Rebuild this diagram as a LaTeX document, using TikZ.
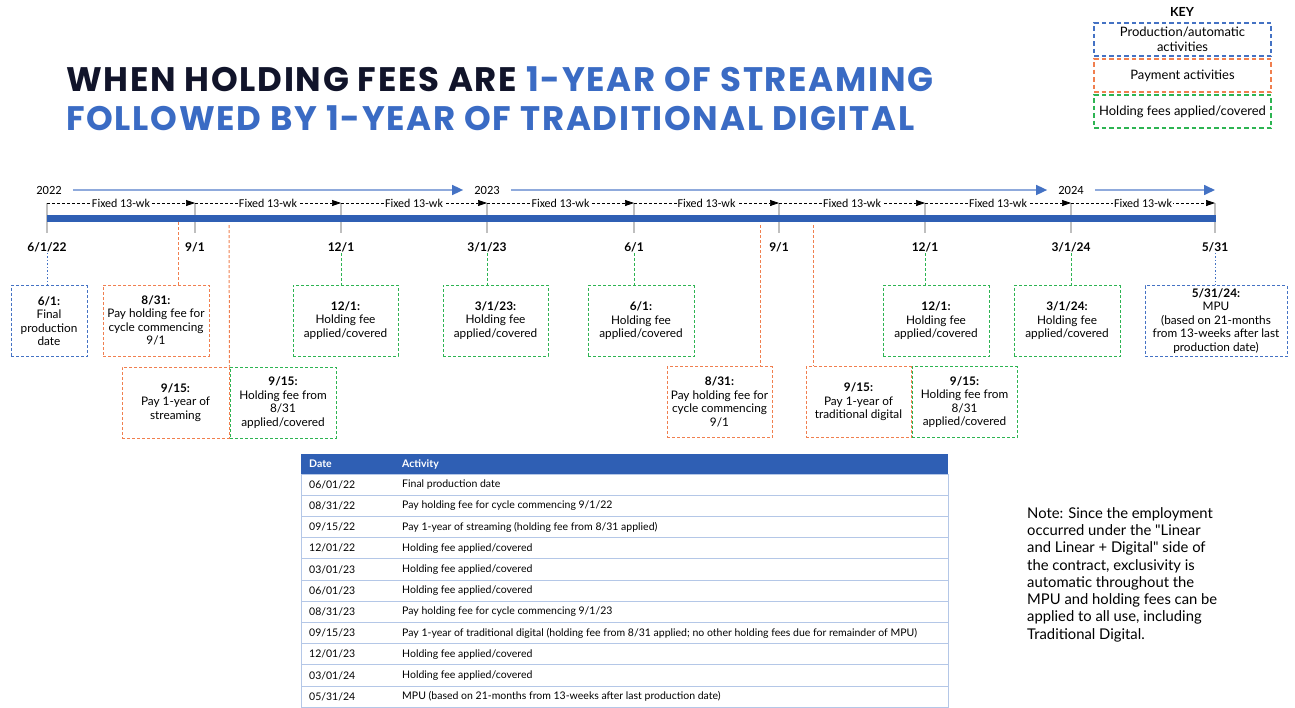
\documentclass[tikz,border=0pt]{standalone}
\usepackage{fontspec}
\setmainfont{Lato}
\newfontfamily\headfont[LetterSpace=5]{Poppins}
\newfontfamily\notefont[Ligatures=TeXOff]{Lato}
\newfontfamily\calfont{Carlito}
\usetikzlibrary{positioning,arrows.meta}

\definecolor{keyblue}{HTML}{4472C4}
\definecolor{keyorange}{HTML}{F07F4F}
\definecolor{keygreen}{HTML}{2DB452}
\definecolor{barblue}{HTML}{2F5FB4}
\definecolor{yearblue}{HTML}{8FAADC}
\definecolor{titlenavy}{HTML}{11142A}
\definecolor{titleblue}{HTML}{3A6BC4}
\definecolor{rowline}{HTML}{B4C7E7}
\definecolor{tickgray}{HTML}{BFBFBF}

\tikzset{
	evbox/.style = {draw, dash pattern=on 3pt off 2pt, line width=1pt, fill=white,
		align=center, inner sep=2pt, minimum width=#1, minimum height=71pt,
		font=\fontsize{11.8}{13.5}\selectfont},
	evbox/.default = 106pt,
	keybox/.style = {draw, dash pattern=on 4.5pt off 3pt, line width=1.3pt,
		align=center, minimum width=177pt, minimum height=33pt,
		font=\fontsize{13}{14.5}\selectfont},
	datelbl/.style = {font=\bfseries\fontsize{12}{14}\selectfont, inner sep=1pt},
	yearlbl/.style = {font=\calfont\fontsize{12.5}{14}\selectfont, inner xsep=11pt},
	fixlbl/.style = {font=\calfont\fontsize{12}{13}\selectfont, fill=white, inner sep=1pt},
	cyclearrow/.style = {dash pattern=on 3pt off 2pt, line width=0.7pt, -{Triangle[length=9pt,width=6pt]}},
	yeararrow/.style = {yearblue, line width=1.6pt, -{Triangle[length=11pt,width=10pt,color=keyblue]}},
	paylink/.style = {keyorange, line width=1pt, dash pattern=on 3pt off 2pt},
	feelink/.style = {keygreen, line width=1pt, dash pattern=on 3pt off 2pt},
	prodlink/.style = {keyblue, line width=1pt, dash pattern=on 1.5pt off 2pt},
	tablecell/.style = {font=\fontsize{10.5}{12}\selectfont, anchor=west, inner sep=0pt}
}

\begin{document}
\begin{tikzpicture}[x=1pt, y=-1pt]
	\useasboundingbox (0,0) rectangle (1295,707);

	% title
	\node[anchor=base west, inner sep=0pt, font=\headfont\bfseries\fontsize{34}{40}\selectfont] (Titel1) at (66,91)
		{\textcolor{titlenavy}{WHEN HOLDING FEES ARE} \textcolor{titleblue}{1-YEAR OF STREAMING}};
	\node[anchor=base west, inner sep=0pt, font=\headfont\bfseries\fontsize{34}{40}\selectfont, titleblue] (Titel2) at (66,130)
		{FOLLOWED BY 1-YEAR OF TRADITIONAL DIGITAL};

	% key
	\node[font=\bfseries\fontsize{12.5}{14}\selectfont] (Key) at (1182,12) {KEY};
	\node[keybox, draw=keyblue]   (keyProd) at (1182.5,39.5)  {Production/automatic\\activities};
	\node[keybox, draw=keyorange] (keyPay)  at (1182.5,75.5)  {Payment activities};
	\node[keybox, draw=keygreen]  (keyFee)  at (1182.5,111.5) {Holding fees applied/covered};

	% years
	\node[yearlbl] (y22) at (49,190)   {2022};
	\node[yearlbl] (y23) at (487,190)  {2023};
	\node[yearlbl] (y24) at (1071,190) {2024};
	\coordinate (yEnd) at (1215,190);
	\draw[yeararrow] (y22) -- (y23);
	\draw[yeararrow] (y23) -- (y24);
	\draw[yeararrow] (y24) -- (yEnd);

	% quarter ticks and cycles
	\foreach \x [count=\i] in {47,195,341,487,634,779,925,1071,1215}
		\coordinate (t\i) at (\x,203);
	\foreach \i in {1,...,9}
		\draw[tickgray, line width=1.2pt] (t\i) -- ++(0,30);
	\foreach \j [count=\i] in {2,...,9}
		\draw[cyclearrow] (t\i) -- (t\j) node[midway, fixlbl] {Fixed 13-wk};
	\fill[barblue] (47,215) rectangle (1216,222);
	\foreach \lab [count=\i] in {6/1/22,9/1,12/1,3/1/23,6/1,9/1,12/1,3/1/24,5/31}
		\node[datelbl, below=38pt of t\i] (d\i) {\lab};

	% upper row of boxes
	\node[evbox=76pt, draw=keyblue]   (b61a)  at (49,321)      {\textbf{6/1:}\\Final\\production\\date};
	\node[evbox, draw=keyorange]      (b831a) at (156,320.5)   {\textbf{8/31:}\\Pay holding fee for\\cycle commencing\\9/1};
	\node[evbox=105pt, draw=keygreen] (b121a) at (345.5,320.5) {\textbf{12/1:}\\Holding fee\\applied/covered};
	\node[evbox=105pt, draw=keygreen] (b31a)  at (495.5,320.5) {\textbf{3/1/23:}\\Holding fee\\applied/covered};
	\node[evbox, draw=keygreen]       (b61b)  at (641,321)     {\textbf{6/1:}\\Holding fee\\applied/covered};
	\node[evbox, draw=keygreen]       (b121b) at (936,321)     {\textbf{12/1:}\\Holding fee\\applied/covered};
	\node[evbox, draw=keygreen]       (b31b)  at (1067,321)    {\textbf{3/1/24:}\\Holding fee\\applied/covered};
	\node[evbox=142pt, draw=keyblue]  (b531)  at (1216,321)    {\textbf{5/31/24:}\\MPU\\(based on 21-months\\from 13-weeks after last\\production date)};

	% lower row of boxes
	\node[evbox=107pt, draw=keyorange] (b915a) at (175.5,402.5) {\textbf{9/15:}\\Pay 1-year of\\streaming};
	\node[evbox, draw=keygreen, right=0pt of b915a] (b915b) {\textbf{9/15:}\\Holding fee from\\8/31\\applied/covered};
	\node[evbox=105pt, draw=keyorange] (b831b) at (719.5,402)   {\textbf{8/31:}\\Pay holding fee for\\cycle commencing\\9/1};
	\node[evbox=105pt, draw=keyorange] (b915c) at (858.5,402)   {\textbf{9/15:}\\Pay 1-year of\\traditional digital};
	\node[evbox=105pt, draw=keygreen, right=0pt of b915c] (b915d) {\textbf{9/15:}\\Holding fee from\\8/31\\applied/covered};

	% connections
	\coordinate (p1) at (178,222);
	\coordinate (p2) at (229,225);
	\coordinate (p3) at (760,225);
	\coordinate (p4) at (813,225);
	\draw[paylink] (p1) -- (p1 |- b831a.north);
	\draw[paylink] (p2) -- (b915a.north east);
	\draw[paylink] (p3) -- (p3 |- b831b.north);
	\draw[paylink] (p4) -- (p4 |- b915c.north);
	\draw[prodlink] (d1.south) -- (d1.south |- b61a.north);
	\draw[prodlink] (d9.south) -- (d9.south |- b531.north);
	\foreach \d/\b in {3/b121a,4/b31a,5/b61b,7/b121b,8/b31b}
		\draw[feelink] (d\d.south) -- (d\d.south |- \b.north);

	% activity table
	\fill[barblue] (301,454) rectangle (948,474);
	\node[tablecell, white, font=\bfseries\fontsize{10.5}{12}\selectfont] (hDate) at (309,464) {Date};
	\node[tablecell, white, font=\bfseries\fontsize{10.5}{12}\selectfont] (hAct)  at (402,464) {Activity};
	\foreach \d/\a [count=\i] in {{06/01/22}/{Final production date},
			{08/31/22}/{Pay holding fee for cycle commencing 9/1/22},
			{09/15/22}/{Pay 1-year of streaming (holding fee from 8/31 applied)},
			{12/01/22}/{Holding fee applied/covered},
			{03/01/23}/{Holding fee applied/covered},
			{06/01/23}/{Holding fee applied/covered},
			{08/31/23}/{Pay holding fee for cycle commencing 9/1/23},
			{09/15/23}/{Pay 1-year of traditional digital (holding fee from 8/31 applied; no other holding fees due for remainder of MPU)},
			{12/01/23}/{Holding fee applied/covered},
			{03/01/24}/{Holding fee applied/covered},
			{05/31/24}/{MPU (based on 21-months from 13-weeks after last production date)}} {
		\draw[rowline, line width=0.8pt] (301,{474+(\i-1)*21.2}) rectangle (948,{474+\i*21.2});
		\node[tablecell] (r\i) at (309,{474+(\i-0.5)*21.2}) {\d};
		\node[tablecell] at (402,{474+(\i-0.5)*21.2}) {\a};
	}

	% note
	\node[anchor=north west, align=left, inner sep=0pt, font=\notefont\fontsize{14.8}{17.3}\selectfont] (Note) at (1027,507)
		{Note: Since the employment\\occurred under the "Linear\\and Linear + Digital" side of\\the contract, exclusivity is\\automatic throughout the\\MPU and holding fees can be\\applied to all use, including\\Traditional Digital.};
\end{tikzpicture}
\end{document}
